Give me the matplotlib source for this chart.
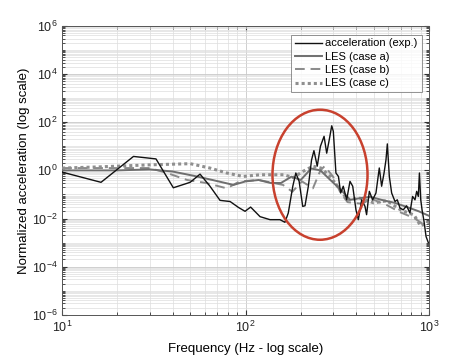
import numpy as np
import matplotlib
matplotlib.use("Agg")
import matplotlib.pyplot as plt
from matplotlib.patches import Ellipse
from matplotlib.ticker import LogLocator, FixedLocator, NullFormatter

plt.rcParams['font.family'] = ['Liberation Sans', 'DejaVu Sans']

# measured acceleration (exp.)
exp_f = [10, 16.3, 24.5, 32.5, 40.4, 49.9, 56.5, 64, 72.6, 82.4, 91.5, 99.4, 106.6,
         120, 136, 154, 164, 171, 181, 188, 196, 205, 211, 220, 229, 236, 246, 256,
         268, 277, 286, 295, 301, 311, 321, 330, 341, 356, 371, 384, 400, 412, 430,
         448, 457, 473, 493, 514, 536, 552, 569, 583, 593, 608, 626, 653, 672, 695,
         724, 755, 787, 814, 839, 857, 875, 887, 902, 917, 940, 964, 992]
exp_a = [0.85, 0.32, 3.8, 3.0, 0.19, 0.32, 0.7, 0.22, 0.057, 0.051, 0.029, 0.02, 0.03,
         0.012, 0.009, 0.009, 0.007, 0.017, 0.22, 0.78, 0.35, 0.032, 0.034, 0.22, 2.7,
         6.6, 1.5, 10, 26, 5.2, 18.6, 71, 42, 0.78, 0.56, 0.115, 0.22, 0.06, 0.35,
         0.22, 0.023, 0.009, 0.06, 0.032, 0.0145, 0.135, 0.06, 0.115, 1.26, 0.22, 0.78,
         2.75, 12.6, 0.56, 0.115, 0.051, 0.06, 0.0275, 0.023, 0.034, 0.017, 0.083,
         0.06, 0.135, 0.083, 0.78, 0.06, 0.023, 0.0076, 0.0018, 0.001]

# LES case a
a_f = [10, 20, 30, 40, 52, 66, 86, 100, 118, 137, 156, 178, 200, 228, 256, 290, 330,
       372, 420, 480, 550, 650, 760, 880, 1000]
a_a = [1.0, 1.0, 1.1, 0.9, 0.6, 0.4, 0.25, 0.35, 0.4, 0.3, 0.3, 0.55, 0.4, 1.2, 1.0,
       0.4, 0.16, 0.06, 0.07, 0.08, 0.06, 0.045, 0.03, 0.02, 0.013]

# LES case b
b_f = [10, 30, 37, 48, 61, 79, 93, 118, 160, 180, 203, 233, 256, 270, 300, 330, 360,
       420, 500, 590, 700, 830, 940, 1000]
b_a = [1.25, 1.25, 0.8, 0.4, 0.3, 0.18, 0.35, 0.4, 0.25, 0.13, 0.35, 0.18, 1.0, 1.5,
       0.55, 0.115, 0.048, 0.042, 0.06, 0.036, 0.018, 0.0105, 0.0055, 0.007]

# LES case c
c_f = [10, 16, 30, 50, 64, 79, 97, 120, 137, 162, 182, 205, 233, 258, 290, 320, 360,
       420, 500, 590, 700, 830, 900, 1000]
c_a = [1.25, 1.4, 1.7, 1.9, 1.25, 0.78, 0.56, 0.66, 0.66, 0.66, 0.5, 0.9, 1.5, 1.25,
       0.55, 0.2, 0.06, 0.07, 0.045, 0.055, 0.023, 0.014, 0.005, 0.007]

fig = plt.figure(figsize=(4.74, 3.55), dpi=100)
ax = fig.add_axes([0.131, 0.113, 0.774, 0.814])

ax.plot(exp_f, exp_a, color='#111111', lw=1.0, label='acceleration (exp.)', zorder=5)
ax.plot(a_f, a_a, color='#6e6e6e', lw=1.4, label='LES (case a)', zorder=4)
ax.plot(b_f, b_a, color='#8a8a8a', lw=1.4, ls=(0, (5, 3)), label='LES (case b)', zorder=3)
ax.plot(c_f, c_a, color='#8f8f8f', lw=2.2, ls=(0, (1, 1)), label='LES (case c)', zorder=3)

ax.set_xscale('log')
ax.set_yscale('log')
ax.set_xlim(10, 1000)
ax.set_ylim(1e-6, 1e6)

ax.yaxis.set_major_locator(FixedLocator([10.0 ** k for k in range(-6, 7, 2)]))
ax.yaxis.set_minor_locator(LogLocator(base=10, subs=np.arange(1, 10), numticks=100))
ax.yaxis.set_minor_formatter(NullFormatter())
ax.xaxis.set_minor_locator(LogLocator(base=10, subs=np.arange(2, 10), numticks=100))
ax.xaxis.set_minor_formatter(NullFormatter())

ax.grid(True, which='major', color='#c8c8c8', lw=0.6)
ax.grid(True, which='minor', color='#dddddd', lw=0.5)
ax.set_axisbelow(True)
ax.tick_params(which='both', direction='in', top=True, right=True, labelsize=9,
               colors='#333333', labelcolor='#222222')
ax.tick_params(which='minor', length=2)
for s in ax.spines.values():
    s.set_color('#555555')
    s.set_linewidth(0.7)

ax.set_xlabel('Frequency (Hz - log scale)', fontsize=9.5, labelpad=6)
ax.set_ylabel('Normalized acceleration (log scale)', fontsize=9.5, labelpad=1)

ax.add_patch(Ellipse((0.703, 0.485), 0.259, 0.45, transform=ax.transAxes,
                     fill=False, edgecolor='#c8412e', lw=1.8, zorder=6))

leg = ax.legend(loc='upper right', bbox_to_anchor=(0.98, 0.97), fontsize=8,
                frameon=True, fancybox=False, borderpad=0.35, labelspacing=0.3,
                handlelength=2.4, handletextpad=0.3, borderaxespad=0)
leg.get_frame().set_edgecolor('#777777')
leg.get_frame().set_linewidth(0.7)

fig.savefig('out.png', dpi=100)
